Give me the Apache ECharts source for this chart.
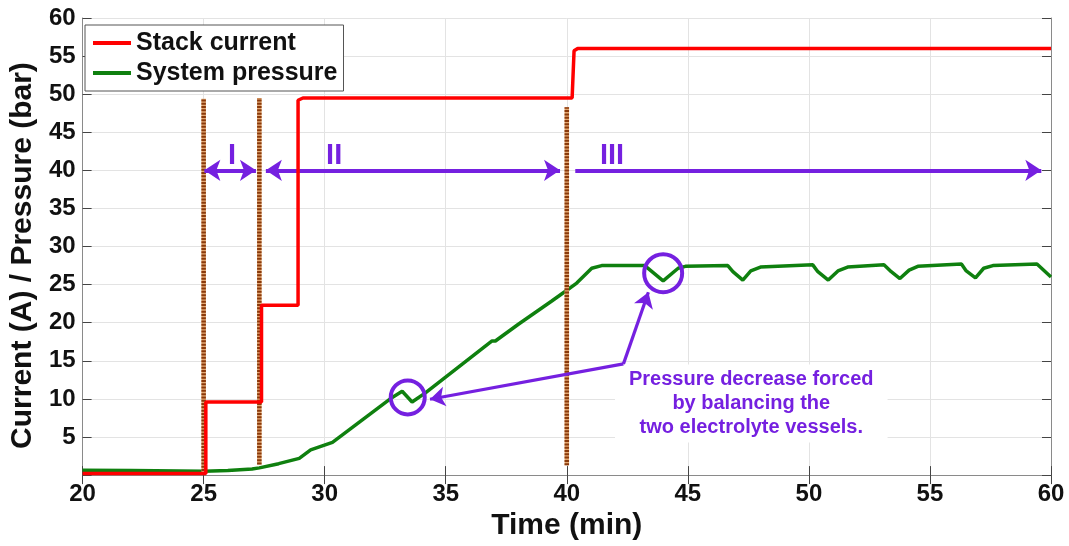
<!DOCTYPE html>
<html>
<head>
<meta charset="utf-8">
<script src="https://cdn.jsdelivr.net/npm/echarts@6/dist/echarts.min.js"></script>
<style>
  html, body { margin: 0; padding: 0; background: #fff; }
  #chart { width: 1069px; height: 546px; }
</style>
</head>
<body>
<div id="chart"></div>
<script>
// ---- data (time in min, current in A, pressure in bar) ----
const timeRange = [20, 60];
const valueRange = [0, 60];

// stack current: step profile
const stackCurrent = [
  [20, 0.2], [25.09, 0.2], [25.09, 9.6], [27.39, 9.6], [27.39, 22.3],
  [28.9, 22.3], [28.9, 49.2], [29.1, 49.5], [40.22, 49.5], [40.3, 55.7],
  [40.45, 56.0], [60, 56.0]
];

// system pressure
const systemPressure = [
  [20, 0.65], [22, 0.6], [24, 0.55], [25, 0.5], [26, 0.6], [27, 0.8],
  [27.3, 0.95], [28.1, 1.5], [28.95, 2.2], [29.42, 3.3], [30.32, 4.3],
  [32.79, 10.2], [33.2, 11.0], [33.61, 9.6], [34.16, 10.8], [36.9, 17.6],
  [37.05, 17.6], [38.0, 19.8], [39.38, 22.85], [39.93, 24.1], [40.41, 25.2],
  [41.03, 27.15], [41.44, 27.5], [43.22, 27.5], [43.98, 25.5], [44.6, 27.15],
  [44.9, 27.4], [46.65, 27.5], [46.86, 26.7], [47.27, 25.6], [47.6, 26.8],
  [48.0, 27.3], [50.16, 27.6], [50.37, 26.7], [50.8, 25.6], [51.2, 26.8],
  [51.6, 27.3], [53.1, 27.6], [53.4, 26.7], [53.76, 25.8], [54.14, 26.9],
  [54.5, 27.4], [56.3, 27.7], [56.5, 26.8], [56.88, 25.9], [57.22, 27.15],
  [57.6, 27.5], [59.42, 27.7], [60.0, 26.0]
];

// phase boundaries: [time, bottom, top]
const phaseBoundaries = [[25, 0.1, 49.4], [27.3, 1.4, 49.5], [40, 1.3, 48.3]];

// phase names and where they sit
const phaseNames = ['I', 'II', 'III'];
const phaseNamePos = [[26.17, 41.9], [30.39, 41.9], [41.87, 41.9]];

// phase span arrows: [from, to, level, heads]
const phaseSpans = [[25.03, 27.16, 40, 'both'], [27.57, 39.72, 40, 'both'], [40.35, 59.6, 40, 'end']];

// pressure dips highlighted
const dipMarks = [[33.43, 10.2], [43.98, 26.5]];

// note and its pointer
const noteLines = ['Pressure decrease forced', 'by balancing the', 'two electrolyte vessels.'];
const notePos = [47.62, 9.4];
const pointerHinge = [42.34, 14.6];
const pointerTargets = [[34.35, 9.96], [43.37, 24.0]];

// ---- styling ----
const FONT = '"Liberation Sans", Arial, sans-serif';
const RED = '#ff0000';
const GREEN = '#0f800f';
const PURPLE = '#7520e0';
const BOX = '#8a8a8a';

// boundary segments separated by gaps
const boundaryLine = [];
phaseBoundaries.forEach(([t, lo, hi]) => {
  boundaryLine.push([t, lo], [t, hi], [t, '-']);
});

const spanLines = phaseSpans.map(([a, b, y, heads]) => [
  { coord: [a, y], symbol: heads === 'both' ? 'arrow' : 'none' },
  { coord: [b, y], symbol: 'arrow' }
]);

const pointerLines = pointerTargets.map(p => [
  { coord: pointerHinge, symbol: 'none' },
  { coord: p, symbol: 'arrow' }
]);

const chart = echarts.init(document.getElementById('chart'), null, { renderer: 'canvas' });

const hiddenAxis = {
  axisLabel: { show: false },
  axisLine: { show: true, lineStyle: { color: BOX, width: 1 } },
  axisTick: { show: true, inside: true, length: 9, lineStyle: { color: '#444' } },
  splitLine: { show: false }
};

const plainText = { textBorderWidth: 0, textBorderColor: 'transparent', textShadowBlur: 0 };

chart.setOption({
  animation: false,
  backgroundColor: '#fff',
  textStyle: { fontFamily: FONT },
  grid: { left: 79, right: 18, top: 18, bottom: 62, containLabel: false },
  legend: {
    data: [
      { name: 'Stack current', icon: 'rect' },
      { name: 'System pressure', icon: 'rect' }
    ],
    orient: 'vertical',
    left: 85, top: 25,
    padding: [4, 6, 4, 8],
    itemGap: 2,
    itemWidth: 38,
    itemHeight: 4,
    backgroundColor: '#fff',
    borderColor: '#555',
    borderWidth: 1,
    borderRadius: 0,
    selectedMode: false,
    textStyle: { fontFamily: FONT, fontSize: 25, fontWeight: 'bold', color: '#111', lineHeight: 28 }
  },
  xAxis: [
    {
      type: 'value', min: timeRange[0], max: timeRange[1], interval: 5,
      name: 'Time (min)', nameLocation: 'middle', nameGap: 30,
      nameTextStyle: { fontFamily: FONT, fontSize: 30, fontWeight: 'bold', color: '#111' },
      axisLine: { show: true, onZero: false, lineStyle: { color: BOX, width: 1 } },
      axisTick: { show: true, inside: true, length: 9, lineStyle: { color: '#444' } },
      axisLabel: { fontFamily: FONT, fontSize: 24, fontWeight: 'bold', color: '#111', margin: 7 },
      splitLine: { show: true, lineStyle: { color: '#e3e3e3', width: 1 } }
    },
    Object.assign({}, hiddenAxis, { type: 'value', position: 'top', min: timeRange[0], max: timeRange[1], interval: 5 })
  ],
  yAxis: [
    {
      type: 'value', min: valueRange[0], max: valueRange[1], interval: 5,
      name: 'Current (A) / Pressure (bar)', nameLocation: 'middle', nameGap: 42,
      nameTextStyle: { fontFamily: FONT, fontSize: 30, fontWeight: 'bold', color: '#111', padding: [0, 18, 0, 0] },
      axisLine: { show: true, onZero: false, lineStyle: { color: BOX, width: 1 } },
      axisTick: { show: true, inside: true, length: 9, lineStyle: { color: '#444' } },
      axisLabel: {
        fontFamily: FONT, fontSize: 24, fontWeight: 'bold', color: '#111', margin: 7,
        formatter: v => (v === 0 ? '' : String(v))
      },
      splitLine: { show: true, lineStyle: { color: '#e3e3e3', width: 1 } }
    },
    Object.assign({}, hiddenAxis, { type: 'value', position: 'right', min: valueRange[0], max: valueRange[1], interval: 5 })
  ],
  series: [
    {
      name: 'System pressure', type: 'line', z: 2,
      data: systemPressure, showSymbol: false, symbol: 'none',
      lineStyle: { color: GREEN, width: 3.5 }, itemStyle: { color: GREEN },
      emphasis: { disabled: true }, silent: true
    },
    {
      name: 'note', type: 'scatter', z: 3,
      data: [{ value: notePos }],
      symbolSize: 0,
      itemStyle: { color: PURPLE, opacity: 1 },
      label: Object.assign({
        show: true, position: 'inside',
        formatter: () => noteLines.join('\n'),
        fontFamily: FONT, fontSize: 20, fontWeight: 'bold', color: PURPLE,
        lineHeight: 24, align: 'center', verticalAlign: 'middle',
        backgroundColor: '#fff', padding: [3, 14]
      }, plainText),
      emphasis: { disabled: true }, silent: true
    },
    {
      name: 'boundary-base', type: 'line', z: 3,
      data: boundaryLine, showSymbol: false, symbol: 'none', connectNulls: false,
      lineStyle: { color: '#e3a872', width: 4.5, cap: 'butt' },
      emphasis: { disabled: true }, silent: true
    },
    {
      name: 'boundary', type: 'line', z: 3,
      data: boundaryLine, showSymbol: false, symbol: 'none', connectNulls: false,
      lineStyle: { color: '#8a3a0c', width: 4.5, type: [2, 1.3], cap: 'butt' },
      emphasis: { disabled: true }, silent: true
    },
    {
      name: 'dips', type: 'scatter', z: 4,
      data: dipMarks.map((p, i) => ({ value: p, symbolSize: i === 0 ? 34 : 38 })),
      symbol: 'circle',
      itemStyle: { color: 'rgba(0,0,0,0)', borderColor: PURPLE, borderWidth: 4, opacity: 1 },
      emphasis: { disabled: true }, silent: true,
      markLine: {
        silent: true, animation: false, z: 5,
        symbolSize: 15,
        label: { show: false },
        lineStyle: { color: PURPLE, width: 3.2, type: 'solid', opacity: 1 },
        emphasis: { disabled: true },
        data: pointerLines
      }
    },
    {
      name: 'spans', type: 'scatter', z: 4,
      data: phaseNamePos.map((p, i) => ({ value: p, name: phaseNames[i] })),
      symbolSize: 0,
      itemStyle: { color: PURPLE, opacity: 1 },
      label: Object.assign({
        show: true, position: 'inside', formatter: p => p.name,
        fontFamily: FONT, fontSize: 29, fontWeight: 'bold', color: PURPLE
      }, plainText),
      emphasis: { disabled: true }, silent: true,
      markLine: {
        silent: true, animation: false,
        symbolSize: 16,
        label: { show: false },
        lineStyle: { color: PURPLE, width: 4, type: 'solid', opacity: 1 },
        emphasis: { disabled: true },
        data: spanLines
      }
    },
    {
      name: 'Stack current', type: 'line', z: 5,
      data: stackCurrent, showSymbol: false, symbol: 'none',
      lineStyle: { color: RED, width: 3.5 }, itemStyle: { color: RED },
      emphasis: { disabled: true }, silent: true
    }
  ]
});
</script>
</body>
</html>
